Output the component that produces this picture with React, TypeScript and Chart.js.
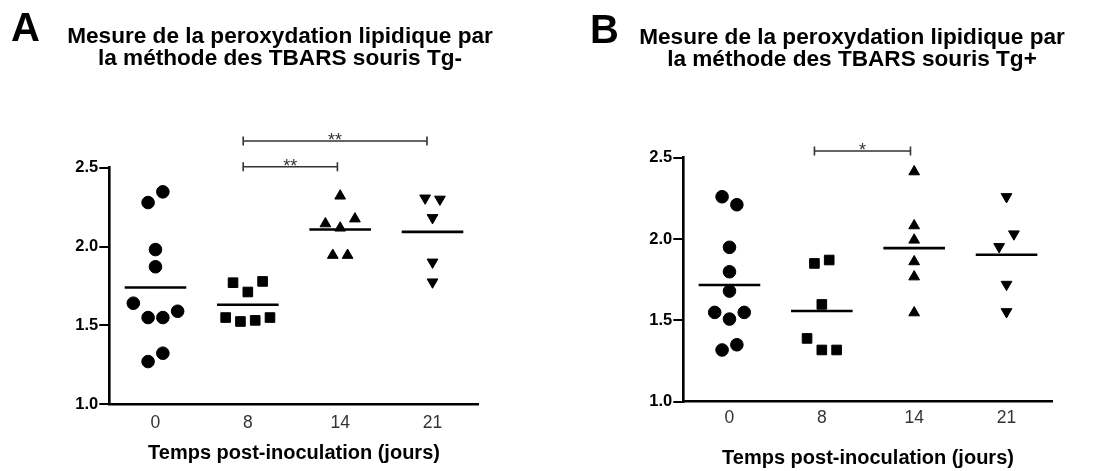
import React, { useEffect, useRef } from 'react';
import { Chart, registerables } from 'chart.js';

Chart.register(...registerables);

// ---------- data ----------
const categories = ['0', '8', '14', '21'];
const yTickValues = [1.0, 1.5, 2.0, 2.5];
const xAxisTitle = 'Temps post-inoculation (jours)';

// Panel A : souris Tg-
const titleA = ['Mesure de la peroxydation lipidique par', 'la méthode des TBARS souris Tg-'];
const aDay0 = [2.279, 2.347, 1.981, 1.872, 1.641, 1.55, 1.55, 1.59, 1.324, 1.271];
const aDay0Jitter = [-0.08, 0.08, 0, 0, -0.24, -0.08, 0.08, 0.24, 0.08, -0.08];
const aDay8 = [1.771, 1.779, 1.712, 1.55, 1.525, 1.532, 1.55];
const aDay8Jitter = [-0.16, 0.16, 0, -0.24, -0.08, 0.08, 0.24];
const aDay14 = [2.321, 2.145, 2.176, 2.118, 1.945, 1.945];
const aDay14Jitter = [0, -0.16, 0.16, 0, -0.08, 0.08];
const aDay21 = [2.307, 2.3, 2.183, 1.901, 1.775];
const aDay21Jitter = [-0.08, 0.08, 0, 0, 0];
const aBrackets = [
  { from: 0.95, to: 1.97, y: 2.506, label: '**' },
  { from: 0.95, to: 2.94, y: 2.669, label: '**' },
];

// Panel B : souris Tg+
const titleB = ['Mesure de la peroxydation lipidique par', 'la méthode des TBARS souris Tg+'];
const bDay0 = [2.26, 2.211, 1.949, 1.799, 1.68, 1.549, 1.549, 1.508, 1.35, 1.318];
const bDay0Jitter = [-0.08, 0.08, 0, 0, 0, -0.16, 0.16, 0, 0.08, -0.08];
const bDay8 = [1.85, 1.871, 1.598, 1.389, 1.318, 1.318];
const bDay8Jitter = [-0.08, 0.08, 0, -0.16, 0, 0.16];
const bDay14 = [2.414, 2.082, 1.994, 1.861, 1.768, 1.547];
const bDay14Jitter = [0, 0, 0, 0, 0, 0];
const bDay21 = [2.26, 2.031, 1.953, 1.721, 1.553];
const bDay21Jitter = [0, 0.08, -0.08, 0, 0];
const bBrackets = [{ from: 0.92, to: 1.96, y: 2.541, label: '*' }];

// ---------- helpers ----------
const FONT = '"Liberation Sans", Arial, Helvetica, sans-serif';
const markerStyles = [
  { pointStyle: 'circle', radius: 6.3, rotation: 0 },
  { pointStyle: 'rect', radius: 6.8, rotation: 0 },
  { pointStyle: 'triangle', radius: 6.2, rotation: 0 },
  { pointStyle: 'triangle', radius: 6.2, rotation: 180 },
];

const mean = (arr: number[]) => arr.reduce((s, v) => s + v, 0) / arr.length;

type Bracket = { from: number; to: number; y: number; label: string };

interface PanelSpec {
  letter: string;
  letterX: number;
  letterY: number;
  title: string[];
  titleX: number;
  titleY: number;
  groups: number[][];
  jitters: number[][];
  brackets: Bracket[];
  padTop: number;
  padRight: number;
  padBottom: number;
  yAxisWidth: number;
  xAxisHeight: number;
  xTickPadding: number;
}

const panelA: PanelSpec = {
  letter: 'A',
  letterX: 11,
  letterY: 40.5,
  title: titleA,
  titleX: 280,
  titleY: 42.7,
  groups: [aDay0, aDay8, aDay14, aDay21],
  jitters: [aDay0Jitter, aDay8Jitter, aDay14Jitter, aDay21Jitter],
  brackets: aBrackets,
  padTop: 167.7,
  padRight: 69.3,
  padBottom: 5.3,
  yAxisWidth: 109.3,
  xAxisHeight: 61.4,
  xTickPadding: 8,
};

const panelB: PanelSpec = {
  letter: 'B',
  letterX: 42,
  letterY: 43.3,
  title: titleB,
  titleX: 304,
  titleY: 43.5,
  groups: [bDay0, bDay8, bDay14, bDay21],
  jitters: [bDay0Jitter, bDay8Jitter, bDay14Jitter, bDay21Jitter],
  brackets: bBrackets,
  padTop: 157.7,
  padRight: 43.3,
  padBottom: 0.7,
  yAxisWidth: 135.3,
  xAxisHeight: 68.6,
  xTickPadding: 6,
};

function makeAnnotPlugin(spec: PanelSpec) {
  return {
    id: 'panelAnnotations',
    afterDraw(chart: any) {
      const { ctx } = chart;
      const x = chart.scales.x;
      const y = chart.scales.y;
      ctx.save();
      ctx.fillStyle = '#000';
      ctx.textAlign = 'left';
      ctx.textBaseline = 'alphabetic';
      ctx.font = `bold 40px ${FONT}`;
      ctx.fillText(spec.letter, spec.letterX, spec.letterY);
      ctx.font = `bold 22.6px ${FONT}`;
      ctx.textAlign = 'center';
      spec.title.forEach((line, i) => ctx.fillText(line, spec.titleX, spec.titleY + i * 22.6));

      ctx.strokeStyle = '#333';
      ctx.fillStyle = '#333';
      ctx.lineWidth = 1.6;
      for (const b of spec.brackets) {
        const x1 = x.getPixelForValue(b.from);
        const x2 = x.getPixelForValue(b.to);
        const yy = y.getPixelForValue(b.y);
        ctx.beginPath();
        ctx.moveTo(x1, yy);
        ctx.lineTo(x2, yy);
        ctx.moveTo(x1, yy - 4.5);
        ctx.lineTo(x1, yy + 4.5);
        ctx.moveTo(x2, yy - 4.5);
        ctx.lineTo(x2, yy + 4.5);
        ctx.stroke();
        ctx.font = `18px ${FONT}`;
        ctx.textAlign = 'center';
        ctx.textBaseline = 'alphabetic';
        ctx.fillText(b.label, (x1 + x2) / 2, yy + 5);
      }
      ctx.restore();
    },
  };
}

function buildConfig(spec: PanelSpec): any {
  const datasets: any[] = spec.groups.map((vals, gi) => ({
    type: 'scatter',
    label: `Jour ${categories[gi]}`,
    data: vals.map((v, i) => ({ x: gi + spec.jitters[gi][i], y: v })),
    pointStyle: markerStyles[gi].pointStyle,
    pointRadius: markerStyles[gi].radius,
    pointRotation: markerStyles[gi].rotation,
    backgroundColor: '#000',
    borderColor: '#000',
    borderWidth: 1,
    clip: false,
  }));
  datasets.push({
    type: 'scatter',
    label: 'Moyenne',
    data: spec.groups.map((vals, gi) => ({ x: gi, y: mean(vals) })),
    pointStyle: 'line',
    pointRadius: 30.8,
    borderColor: '#000',
    backgroundColor: '#000',
    borderWidth: 2.6,
    clip: false,
  });

  return {
    type: 'scatter',
    data: { datasets },
    options: {
      responsive: false,
      animation: false,
      events: [],
      layout: {
        padding: { left: 0, top: spec.padTop, right: spec.padRight, bottom: spec.padBottom },
      },
      plugins: {
        legend: { display: false },
        tooltip: { enabled: false },
        title: { display: false },
      },
      scales: {
        x: {
          type: 'linear',
          min: -0.5,
          max: categories.length - 0.5,
          afterBuildTicks: (scale: any) => {
            scale.ticks = categories.map((_, i) => ({ value: i }));
          },
          afterFit: (scale: any) => {
            scale.height = spec.xAxisHeight;
          },
          ticks: {
            callback: (v: number) => categories[Math.round(v)] ?? '',
            font: { family: FONT, size: 17.5 },
            color: '#333',
            padding: spec.xTickPadding,
            maxRotation: 0,
            autoSkip: false,
          },
          grid: { display: true, drawOnChartArea: false, drawTicks: false },
          border: { display: true, color: '#000', width: 2.6 },
          title: {
            display: true,
            text: xAxisTitle,
            font: { family: FONT, size: 20, weight: 'bold' },
            color: '#000',
            padding: { top: 0, bottom: 0 },
          },
        },
        y: {
          type: 'linear',
          min: yTickValues[0],
          max: yTickValues[yTickValues.length - 1],
          afterBuildTicks: (scale: any) => {
            scale.ticks = yTickValues.map((v) => ({ value: v }));
          },
          afterFit: (scale: any) => {
            scale.width = spec.yAxisWidth;
          },
          ticks: {
            callback: (v: number) => v.toFixed(1),
            font: { family: FONT, size: 16.5, weight: 'bold' },
            color: '#000',
            padding: 1,
          },
          grid: {
            display: true,
            drawOnChartArea: false,
            drawTicks: true,
            tickLength: 10,
            color: '#000',
            lineWidth: 2,
          },
          border: { display: true, color: '#000', width: 2.6 },
        },
      },
    },
    plugins: [makeAnnotPlugin(spec)],
  };
}

function Panel({ spec, left }: { spec: PanelSpec; left: number }) {
  const ref = useRef<HTMLCanvasElement | null>(null);
  useEffect(() => {
    if (!ref.current) return;
    const chart = new Chart(ref.current, buildConfig(spec));
    return () => chart.destroy();
  }, [spec]);
  return (
    <canvas
      ref={ref}
      width={548}
      height={471}
      style={{ position: 'absolute', left, top: 0, width: 548, height: 471 }}
    />
  );
}

export default function App() {
  return (
    <div
      style={{
        position: 'absolute',
        left: 0,
        top: 0,
        width: 1096,
        height: 471,
        background: '#fff',
        overflow: 'hidden',
      }}
    >
      <Panel spec={panelA} left={0} />
      <Panel spec={panelB} left={548} />
    </div>
  );
}
